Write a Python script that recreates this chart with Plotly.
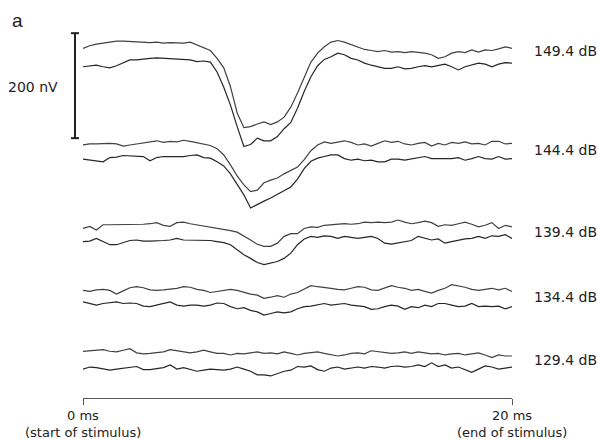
import plotly.graph_objects as go

# sample times (ms), uniform grid across the 20 ms stimulus
TIME_MS = [i * 20 / 64 for i in range(65)]

LEVELS = ["149.4 dB", "144.4 dB", "139.4 dB", "134.4 dB", "129.4 dB"]

# amplitudes in nV, relative to each trace's own pre-stimulus baseline
A_149_1 = [-11, -6, -3, -1, 2, 3, 3, 2, 1, 0, 0, 1, -1, 0, -1, -1, 1, -4, -9, -15, -30, -48, -84, -134, -162, -160, -155, -151, -156, -151, -142, -123, -96, -65, -37, -20, -8, 1, 4, 1, -4, -8, -13, -15, -17, -15, -18, -17, -19, -17, -18, -20, -23, -30, -27, -20, -17, -19, -14, -18, -14, -15, -12, -8, -11]
A_149_2 = [-13, -11, -10, -13, -15, -11, -6, 0, 0, 2, 3, 4, 3, 2, 2, 1, 0, -3, -2, -4, -23, -52, -86, -127, -165, -161, -149, -154, -154, -146, -131, -119, -92, -60, -32, -11, 1, 6, 13, 10, 3, 0, -6, -10, -13, -16, -16, -13, -17, -16, -13, -11, -13, -10, -8, -13, -19, -13, -10, -6, -8, -13, -8, -5, -6]
A_144_1 = [-4, -2, -2, -1, -1, -2, -6, -4, -2, -1, 1, 4, 1, 3, 2, 5, 3, 0, -2, -5, -11, -23, -42, -63, -80, -93, -90, -76, -71, -67, -59, -53, -46, -32, -15, -4, 2, -1, 2, 4, 1, -4, -2, -6, -1, 4, 1, 3, -2, -4, -1, 1, -6, -1, -4, 1, -1, 2, -2, -1, -4, 3, 3, -2, -1]
A_144_2 = [-4, -6, -7, -9, -1, 0, 3, 2, 1, 1, -7, -1, 1, 1, 1, 1, 3, 4, -1, -2, -9, -17, -32, -52, -72, -97, -90, -84, -78, -71, -65, -57, -42, -22, -8, -2, 1, 4, 4, -3, -6, -4, -7, -6, -9, -9, -4, -4, -6, -4, -1, 1, -3, -3, -4, -3, -1, -6, -3, 1, -3, -4, 1, -4, -3]
A_139_1 = [-8, -4, -11, -1, -1, -1, -1, 0, 0, 0, 1, 3, -2, -4, 3, 4, 1, -1, -3, -5, -7, -10, -12, -15, -22, -30, -38, -42, -42, -36, -23, -18, -18, -8, -5, -6, -2, -1, -1, 1, 0, 1, 4, 3, 4, 3, 4, 8, 4, 1, 3, 6, 3, -4, -1, -2, 1, 4, 0, -5, -2, 3, -8, -2, -5]
A_139_2 = [-2, -1, 4, -2, -8, -8, -4, 0, 1, -1, -1, -1, 0, 1, 4, 1, 1, 0, 1, 0, -2, -4, -8, -17, -27, -34, -42, -46, -43, -40, -34, -24, -8, 3, 8, 6, 9, 8, 4, 8, 6, 4, 6, 8, 4, -5, -7, -5, -2, 0, 8, 4, 1, 3, -5, -2, 1, 3, 4, 8, 4, 9, 8, 11, 4]
A_134_1 = [-1, -3, 0, 1, -1, -8, -2, 4, 6, 4, 0, -1, 0, 1, 3, 6, 5, 1, -1, -5, -3, -1, 1, -1, -5, -8, -10, -16, -14, -11, -14, -8, -5, 1, 8, 6, 5, 3, 1, 0, 3, 6, 5, 0, -1, 3, 8, 5, 3, -1, 1, -3, -6, -1, 3, 10, 8, 5, 1, -1, 1, 3, 0, 3, -3]
A_134_2 = [3, 0, -3, 0, 1, 3, 0, 1, 0, -5, -6, -3, 1, 3, -3, -5, -3, -3, -5, -3, 1, 0, -6, -10, -8, -13, -16, -22, -19, -16, -18, -16, -10, -6, -5, -3, 0, -3, -2, 0, -3, -5, -6, -11, -10, -6, -3, -5, -11, -6, -8, -3, -6, 0, 0, -3, -6, -5, 0, -6, -5, -6, -5, -10, -6]
A_129_1 = [1, 2, 3, 4, 1, 0, 3, 6, -2, -4, -3, -2, 0, 4, 2, 0, -2, 0, 3, 0, -3, -3, -6, -3, -4, -2, 0, -3, -2, -4, 0, -3, -6, -3, -2, 0, -3, -6, -8, -6, -3, -2, -4, 2, 0, -2, -3, -2, 0, -3, 0, -2, -4, -3, -6, -4, -3, -6, -4, -2, -6, -11, -6, -8, -8]
A_129_2 = [-2, 2, 1, -2, -4, -2, 0, 2, 3, -3, -3, -1, 1, 6, -2, 1, -3, -6, -4, -2, -3, -4, -2, 2, -2, -6, -13, -13, -15, -11, -6, -4, 3, 2, 4, -3, -6, 0, 2, -2, 0, 2, 0, 3, 2, 0, 3, 4, 2, 3, 6, 3, 10, 3, 6, 0, 2, -3, -8, -2, 4, 2, -2, 0, 2]

TRACES = [A_149_1, A_149_2, A_144_1, A_144_2, A_139_1, A_139_2,
          A_134_1, A_134_2, A_129_1, A_129_2]

# layout: vertical placement of each trace's baseline (nV above the time axis)
OFFSETS = [677, 644, 486, 459, 331, 300, 206, 180, 88, 57]
SCALE_NV = 200

W, H = 598, 439
ML, MR, MT, MB = 83, 86, 0, 41
Y_TOP = 758.2  # nV at top of plot area

fig = go.Figure()
for i, (tr, off) in enumerate(zip(TRACES, OFFSETS)):
    fig.add_trace(go.Scatter(
        x=TIME_MS, y=[v + off for v in tr], mode="lines",
        line=dict(color="#404040" if i % 2 == 0 else "#262626", width=1.2),
        hoverinfo="skip", showlegend=False))

pw = W - ML - MR
def px_to_paper_x(px):
    return (px - ML) / pw

FONT = dict(size=13, color="#222", family="DejaVu Sans")
FONT_L = dict(size=14, color="#222", family="DejaVu Sans")

anns = []
for j, lab in enumerate(LEVELS):
    yc = (OFFSETS[2 * j] + OFFSETS[2 * j + 1]) / 2
    anns.append(dict(text=lab, x=1, xref="paper", xanchor="left", xshift=20,
                     y=yc, yref="y", yanchor="middle", showarrow=False, font=FONT_L))

# time-axis labels
for tx, l1, l2 in [(0, "0 ms", "(start of stimulus)"), (20, "20 ms", "(end of stimulus)")]:
    anns.append(dict(text=l1, x=tx, xref="x", y=0, yref="y", yanchor="middle",
                     yshift=-17, showarrow=False, font=FONT))
    anns.append(dict(text=l2, x=tx, xref="x", y=0, yref="y", yanchor="middle",
                     yshift=-34, showarrow=False, font=FONT))

# scale bar
bar_bottom = 495
bar_top = bar_bottom + SCALE_NV
bx = px_to_paper_x(75)
cap = 4 / pw
shapes = [
    dict(type="line", xref="paper", yref="y", x0=bx, x1=bx, y0=bar_bottom, y1=bar_top,
         line=dict(color="#222", width=2)),
    dict(type="line", xref="paper", yref="y", x0=bx - cap, x1=bx + cap, y0=bar_top, y1=bar_top,
         line=dict(color="#222", width=2)),
    dict(type="line", xref="paper", yref="y", x0=bx - cap, x1=bx + cap, y0=bar_bottom, y1=bar_bottom,
         line=dict(color="#222", width=2)),
]
anns.append(dict(text=f"{SCALE_NV} nV", x=px_to_paper_x(33), xref="paper", xanchor="center",
                 y=(bar_bottom + bar_top) / 2 - 3, yref="y", yanchor="middle", showarrow=False,
                 font=FONT_L))
anns.append(dict(text="a", x=px_to_paper_x(17), xref="paper", xanchor="center",
                 y=1 - 20 / (H - MT - MB), yref="paper", yanchor="middle", showarrow=False,
                 font=dict(size=19, color="#222", family="Liberation Sans")))

fig.update_layout(
    width=W, height=H, margin=dict(l=ML, r=MR, t=MT, b=MB, pad=0),
    paper_bgcolor="white", plot_bgcolor="white",
    xaxis=dict(range=[0, 20], showgrid=False, zeroline=False, showline=True,
               linecolor="#555", linewidth=1, ticks="outside", ticklen=6,
               tickcolor="#555", tickvals=[0, 20], showticklabels=False, fixedrange=True),
    yaxis=dict(range=[0, Y_TOP], visible=False, fixedrange=True),
    annotations=anns, shapes=shapes,
)
fig.write_html("out.html", config={"displayModeBar": False},
               post_script="document.body.style.margin='0';document.body.style.overflow='hidden';")
